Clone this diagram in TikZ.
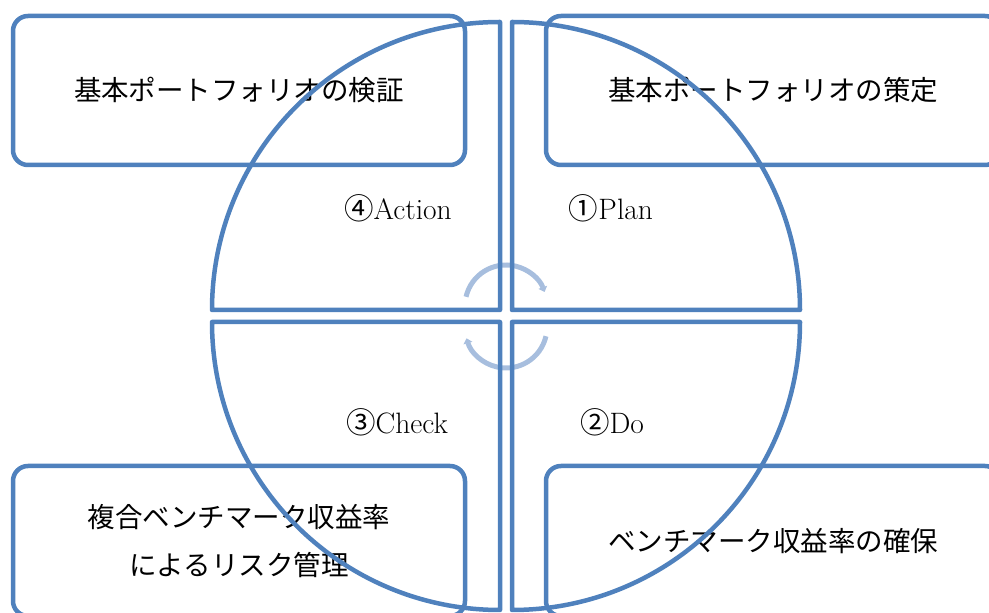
\documentclass[tikz,border=0pt]{standalone}
\usepackage{fontspec}
\newfontfamily\jp{Noto Sans CJK JP}
\usetikzlibrary{arrows.meta,calc}
\definecolor{pdcablue}{HTML}{4F81BD}
\definecolor{pdcalight}{RGB}{167,190,222}
\tikzset{
  x=1pt, y=1pt,
  piece/.style={draw=pdcablue, line width=4.5pt, line join=round},
  cornerbox/.style={draw=pdcablue, line width=4.5pt, rounded corners=15pt,
    inner sep=0pt, align=center, font=\jp\fontsize{27.5}{48}\selectfont},
  phase/.style={inner sep=0pt, font=\fontsize{29.5}{31}\selectfont},
  cyclearrow/.style={draw=pdcalight, line width=5pt, -{Triangle[width=9pt,length=5pt]}}
}
\begin{document}
\begin{tikzpicture}
\useasboundingbox (0,0) rectangle (989,613);
\clip (0,0) rectangle (989,613);
% corner boxes
\node[cornerbox, minimum width=452pt, minimum height=149pt] (verify) at (239,522.5) {基本ポートフォリオの検証};
\node[cornerbox, minimum width=454pt, minimum height=149pt] (plan) at (773,522.5) {基本ポートフォリオの策定};
\node[cornerbox, minimum width=452pt, minimum height=150pt] (check) at (239,72) {複合ベンチマーク収益率\\によるリスク管理};
\node[cornerbox, minimum width=454pt, minimum height=150pt] (do) at (773,72) {ベンチマーク収益率の確保};
% cycle arrows
\coordinate (uc) at (506,307);
\coordinate (lc) at (506,286);
\draw[cyclearrow] ($(uc)+(167:41)$) arc[start angle=167, end angle=20, radius=41];
\draw[cyclearrow] ($(lc)+(-13:41)$) arc[start angle=-13, end angle=-164, radius=41];
% quarter pieces
\draw[piece] (500,303) -- (212,303) arc[start angle=180, end angle=90, radius=288] -- cycle;
\draw[piece] (512,303) -- (512,591) arc[start angle=90, end angle=0, radius=288] -- cycle;
\draw[piece] (500,291) -- (212,291) arc[start angle=180, end angle=270, radius=288] -- cycle;
\draw[piece] (512,291) -- (800,291) arc[start angle=0, end angle=-90, radius=288] -- cycle;
% phase labels
\node[phase] (lact) at (398,405) {{\jp ④}Action};
\node[phase] (lplan) at (611,405) {{\jp ①}Plan};
\node[phase] (lchk) at (397,191) {{\jp ③}Check};
\node[phase] (ldo) at (612,191) {{\jp ②}Do};
\end{tikzpicture}
\end{document}
